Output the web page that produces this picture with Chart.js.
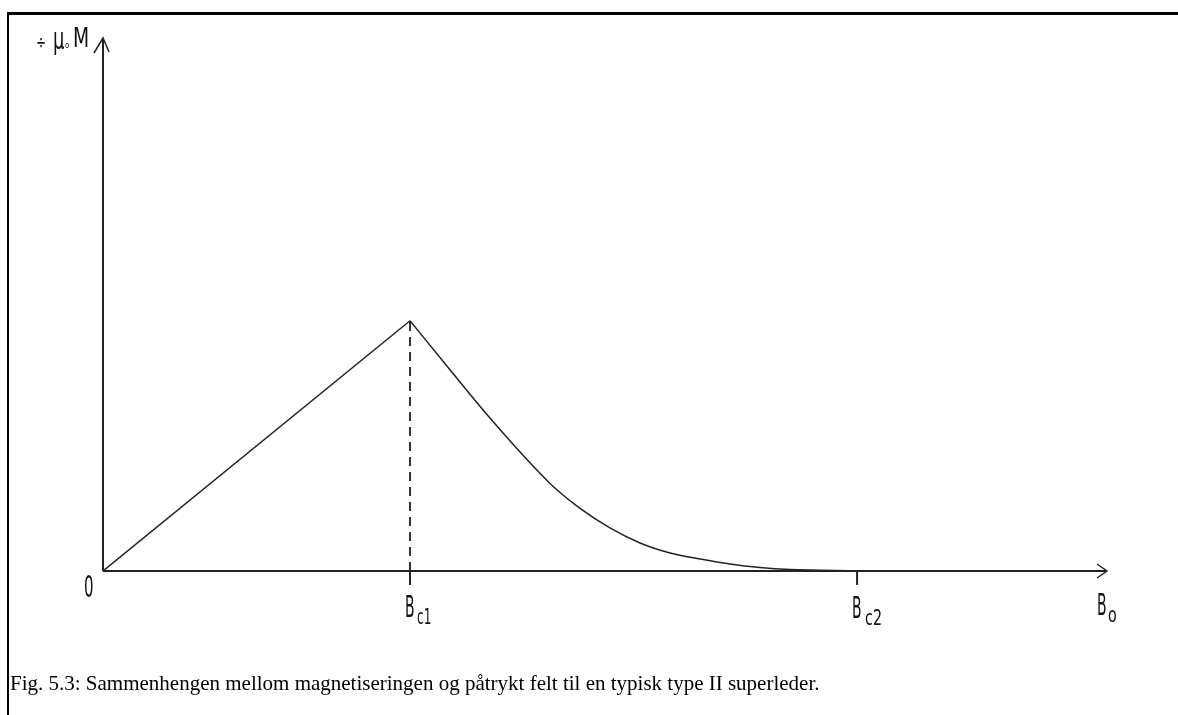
<!DOCTYPE html>
<html>
<head>
<meta charset="utf-8">
<script src="https://cdn.jsdelivr.net/npm/chart.js@4"></script>
<style>
  body { margin: 0; background: #fff; }
  #wrap { position: absolute; left: 0; top: 0; width: 1178px; height: 715px; }
  #frame { position: absolute; left: 7px; top: 12px; right: 0; bottom: 0;
           border-left: 2px solid #000; border-top: 3px solid #000; }
  #caption { position: absolute; left: 10px; top: 671px;
             font: 21px "Liberation Serif", "DejaVu Serif", serif; color: #000; }
</style>
</head>
<body>
<div id="wrap">
  <div id="frame"></div>
  <canvas id="magnet"></canvas>
  <div id="caption">Fig. 5.3: Sammenhengen mellom magnetiseringen og påtrykt felt til en typisk type II superleder.</div>
</div>
<script>
// field values, in units of Bc1
const bc1 = 1.0;
const bc2 = 2.456;
const xMax = 3.27;
const yMax = 2.13;

// linear rise (Meissner state) up to Bc1
const riseB = [0, 1.0];
const riseM = [0, 1.0];

// decay in the mixed state between Bc1 and Bc2
const fallB = [1.0, 1.13, 1.261, 1.456, 1.554, 1.651, 1.749, 1.847, 1.945, 2.042, 2.14, 2.238, 2.456];
const fallM = [1.0, 0.804, 0.61, 0.35, 0.25, 0.172, 0.112, 0.072, 0.048, 0.028, 0.014, 0.006, 0.0];

const tickLabels = [
  { v: bc1, main: "B", sub: "c1", dy: 46, subX: 7, subSx: 0.55 },
  { v: bc2, main: "B", sub: "c2", dy: 47, subX: 8, subSx: 0.65 },
];

// tall, very condensed lettering like the original drawing
function narrow(ctx, text, x, y, size, sx) {
  ctx.save();
  ctx.translate(x, y);
  ctx.scale(sx, 1);
  ctx.font = size + 'px "DejaVu Sans", sans-serif';
  ctx.textAlign = "left";
  ctx.textBaseline = "alphabetic";
  ctx.fillText(text, 0, 0);
  ctx.restore();
}

const axesPlugin = {
  id: "axes",
  afterDatasetsDraw(chart) {
    const ctx = chart.ctx;
    const xs = chart.scales.x, ys = chart.scales.y;
    const x0 = xs.getPixelForValue(0), y0 = ys.getPixelForValue(0);
    const xEnd = xs.getPixelForValue(xMax), yEnd = ys.getPixelForValue(yMax);
    ctx.save();
    ctx.strokeStyle = "#222";
    ctx.lineWidth = 2;
    ctx.beginPath();
    ctx.moveTo(x0, y0); ctx.lineTo(xEnd, y0);
    ctx.moveTo(x0, y0); ctx.lineTo(x0, yEnd);
    ctx.stroke();
    // arrow heads
    ctx.lineWidth = 1.5;
    ctx.beginPath();
    ctx.moveTo(x0 - 9, yEnd + 15); ctx.lineTo(x0, yEnd); ctx.lineTo(x0 + 6, yEnd + 14);
    ctx.moveTo(xEnd - 10, y0 - 7); ctx.lineTo(xEnd, y0); ctx.lineTo(xEnd - 10, y0 + 7);
    ctx.stroke();
    // ticks at Bc1, Bc2
    ctx.lineWidth = 2;
    ctx.beginPath();
    [bc1, bc2].forEach((v) => {
      const px = xs.getPixelForValue(v);
      ctx.moveTo(px, y0); ctx.lineTo(px, y0 + 14);
    });
    ctx.stroke();
    // labels
    ctx.fillStyle = "#111";
    narrow(ctx, "0", x0 - 19, y0 + 26, 30, 0.5);
    tickLabels.forEach((t) => {
      const px = xs.getPixelForValue(t.v);
      narrow(ctx, t.main, px - 5, y0 + t.dy, 31, 0.45);
      narrow(ctx, t.sub, px + t.subX, y0 + t.dy + 7, 22, t.subSx);
    });
    narrow(ctx, "B", xEnd - 10, y0 + 44, 31, 0.45);
    narrow(ctx, "o", xEnd + 1, y0 + 51, 22, 0.65);
    // magnetisation axis label
    narrow(ctx, "\u00f7", x0 - 67, yEnd + 11, 20, 0.6);
    narrow(ctx, "\u03bc", x0 - 50, yEnd + 11, 30, 0.6);
    narrow(ctx, "o", x0 - 38, yEnd + 10, 9, 0.8);
    narrow(ctx, "M", x0 - 30, yEnd + 9, 26, 0.72);
    ctx.restore();
  },
};

new Chart(document.getElementById("magnet"), {
  type: "scatter",
  data: {
    datasets: [
      {
        data: riseB.map((b, i) => ({ x: b, y: riseM[i] })),
        showLine: true,
        borderColor: "#222",
        borderWidth: 1.5,
        pointRadius: 0,
      },
      {
        data: fallB.map((b, i) => ({ x: b, y: fallM[i] })),
        showLine: true,
        borderColor: "#222",
        borderWidth: 1.5,
        pointRadius: 0,
        cubicInterpolationMode: "monotone",
      },
      {
        data: [{ x: bc1, y: 0 }, { x: bc1, y: riseM[1] }],
        showLine: true,
        borderColor: "#333",
        borderWidth: 2,
        borderDash: [9, 6],
        pointRadius: 0,
      },
    ],
  },
  options: {
    responsive: true,
    maintainAspectRatio: false,
    animation: false,
    layout: { padding: { left: 103, top: 38, right: 71, bottom: 144 } },
    plugins: {
      legend: { display: false },
      tooltip: { enabled: false },
    },
    scales: {
      x: { type: "linear", min: 0, max: xMax, display: false },
      y: { type: "linear", min: 0, max: yMax, display: false },
    },
  },
  plugins: [axesPlugin],
});
</script>
</body>
</html>
